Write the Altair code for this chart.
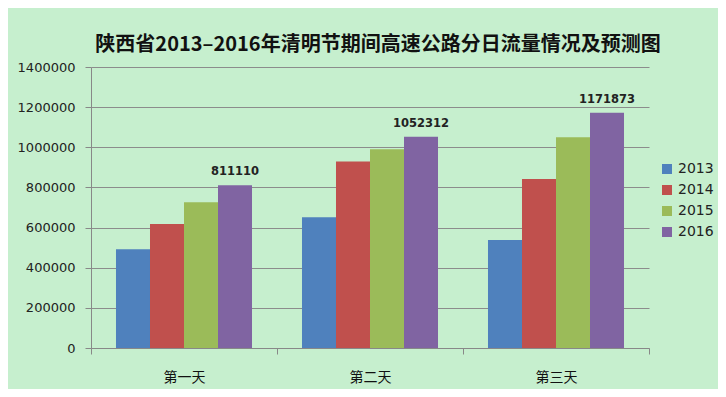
import altair as alt
import pandas as pd

days = ["第一天", "第二天", "第三天"]
years = ["2013", "2014", "2015", "2016"]
v2013 = [492000, 651000, 538000]
v2014 = [618000, 929000, 842000]
v2015 = [726000, 990000, 1050000]
v2016 = [811110, 1052312, 1171873]
colors = ["#4F81BD", "#C0504D", "#9BBB59", "#8064A2"]
y_ticks = [0, 200000, 400000, 600000, 800000, 1000000, 1200000, 1400000]

rows = []
for yr, vals in zip(years, [v2013, v2014, v2015, v2016]):
    for d, v in zip(days, vals):
        rows.append({"day": d, "year": yr, "value": v})
df = pd.DataFrame(rows)

x_enc = alt.X(
    "day:N", sort=days, title=None,
    scale=alt.Scale(paddingInner=0, paddingOuter=0),
    axis=alt.Axis(
        tickBand="extent", labelAngle=0, labelFont="Noto Sans CJK SC",
        labelFontSize=14, labelColor="#111", labelPadding=16, tickSize=6,
        domainColor="#888", tickColor="#888", grid=False,
    ),
)
xoff_enc = alt.XOffset("year:N", sort=years,
                       scale=alt.Scale(paddingInner=0, paddingOuter=0.735))
y_enc = alt.Y(
    "value:Q", title=None,
    scale=alt.Scale(domain=[0, 1400000], nice=False),
    axis=alt.Axis(
        values=y_ticks, format="d", labelFont="DejaVu Sans", labelFontSize=13,
        labelColor="#222", labelPadding=10, tickSize=6, tickColor="#888",
        domainColor="#888", gridColor="#8c8c8c", gridWidth=1,
    ),
)

bars = alt.Chart(df).mark_bar().encode(
    x=x_enc,
    xOffset=xoff_enc,
    y=y_enc,
    color=alt.Color(
        "year:N", sort=years, title=None,
        scale=alt.Scale(domain=years, range=colors),
        legend=alt.Legend(
            orient="none", legendX=569, legendY=95, symbolType="square",
            symbolSize=100, symbolStrokeWidth=0, labelFont="DejaVu Sans",
            labelFontSize=14, labelColor="#222", labelOffset=4, rowPadding=7,
            padding=0,
        ),
    ),
)

labels = alt.Chart(df).transform_filter(alt.datum.year == "2016").mark_text(
    baseline="bottom", dy=-8, font="DejaVu Sans", fontSize=11.5,
    fontWeight="bold", color="#222",
).encode(
    x=alt.X("day:N", sort=days),
    xOffset=alt.XOffset("year:N", sort=years),
    y="value:Q",
    text=alt.Text("value:Q", format="d"),
)

chart = alt.layer(bars, labels).properties(
    width=558, height=281,
    title=alt.Title(
        "陕西省2013–2016年清明节期间高速公路分日流量情况及预测图",
        font="Noto Sans CJK SC", fontSize=20, fontWeight="bold",
        color="#111", anchor="middle", dx=8, offset=6,
    ),
    autosize=alt.AutoSizeParams(type="none"),
    padding={"left": 83, "top": 59, "right": 69, "bottom": 41},
    background="#C6EFCE",
).configure_view(stroke=None)

chart.save("out.html", embed_options={"renderer": "svg", "actions": False})
